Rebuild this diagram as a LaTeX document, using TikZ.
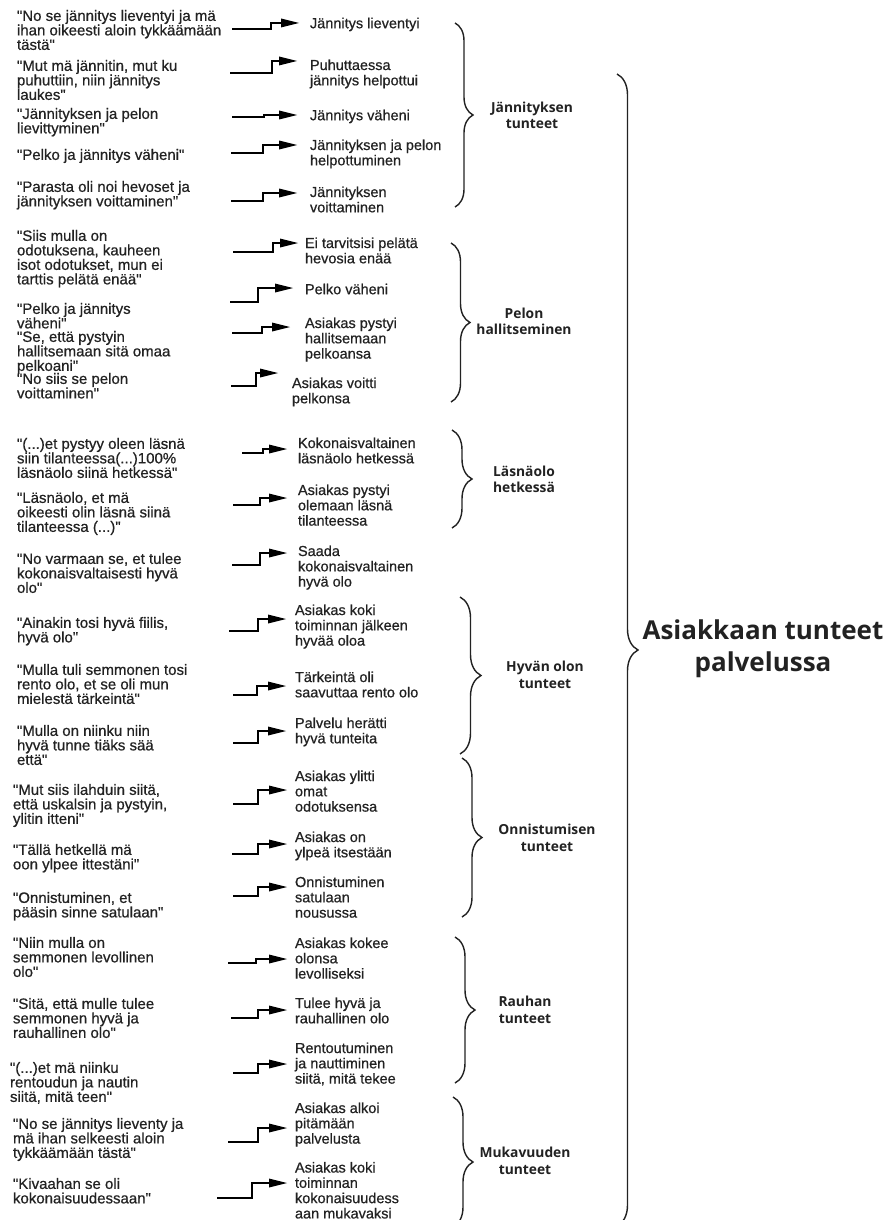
\documentclass[tikz,border=0pt]{standalone}
\usepackage{fontspec}
\setmainfont{Liberation Sans}[Ligatures=TeXOff, FakeBold=0.6]
\newfontfamily\catfont{Open Sans}
\usetikzlibrary{decorations.pathreplacing}

\definecolor{ink}{HTML}{222222}

% text sizes (1pt = 1 unit of the drawing)
\newcommand\qsize{\fontsize{15}{14.5}\selectfont\lineskiplimit=-20pt\lineskip=0pt}
\newcommand\rsize{\fontsize{14.5}{15.3}\selectfont\lineskiplimit=-20pt\lineskip=0pt}
\newcommand\csize{\catfont\bfseries\fontsize{13.8}{16.5}\selectfont}
\newcommand\bigsize{\catfont\bfseries\fontsize{26}{32}\selectfont}

\tikzset{
  quote/.style={anchor=north west, inner sep=0pt, outer sep=0pt, align=left,
    font=\qsize, text=ink, execute at begin node=\strut},
  result/.style={anchor=north west, inner sep=0pt, outer sep=0pt, align=left,
    font=\rsize, text=ink, execute at begin node=\strut},
  category/.style={anchor=center, inner sep=0pt, align=center, font=\csize, text=ink},
  theme/.style={anchor=center, inner sep=0pt, align=center, font=\bigsize, text=ink},
  conn/.style={draw=black, line width=2.3pt, shorten >=12pt},
  head/.style={fill=black},
  brc/.style={draw=ink, line width=1.4pt, decorate},
}

\begin{document}
\begin{tikzpicture}[x=1pt, y=-1pt]
\useasboundingbox (0,0) rectangle (893,1220);
\fill[white] (0,0) rectangle (893,1220);
\clip (0,0) rectangle (893,1220);

% ---- quotations (left column) ----
\node[quote] (q1)  at (17,10)   {"No se jännitys lieventyi ja mä\\ihan oikeesti aloin tykkäämään\\tästä"};
\node[quote] (q2)  at (17,60)   {"Mut mä jännitin, mut ku\\puhuttiin, niin jännitys\\laukes"};
\node[quote] (q3)  at (17,108)  {"Jännityksen ja pelon\\lievittyminen"};
\node[quote] (q4)  at (17,149)  {"Pelko ja jännitys väheni"};
\node[quote] (q5)  at (17,181)  {"Parasta oli noi hevoset ja\\jännityksen voittaminen"};
\node[quote] (q6)  at (17,230)  {"Siis mulla on\\odotuksena, kauheen\\isot odotukset, mun ei\\tarttis pelätä enää"};
\node[quote] (q7)  at (17,303)  {"Pelko ja jännitys\\väheni"};
\node[quote] (q8)  at (17,331)  {"Se, että pystyin\\hallitsemaan sitä omaa\\pelkoani"};
\node[quote] (q9)  at (17,373)  {"No siis se pelon\\voittaminen"};
\node[quote] (q10) at (17,438)  {"(...)et pystyy oleen läsnä\\siin tilanteessa(...)100\%\\läsnäolo siinä hetkessä"};
\node[quote] (q11) at (17,492)  {"Läsnäolo, et mä\\oikeesti olin läsnä siinä\\tilanteessa (...)"};
\node[quote] (q12) at (17,553)  {"No varmaan se, et tulee\\kokonaisvaltaisesti hyvä\\olo"};
\node[quote] (q13) at (17,617)  {"Ainakin tosi hyvä fiilis,\\hyvä olo"};
\node[quote] (q14) at (17,664)  {"Mulla tuli semmonen tosi\\rento olo, et se oli mun\\mielestä tärkeintä"};
\node[quote] (q15) at (17,725)  {"Mulla on niinku niin\\hyvä tunne tiäks sää\\että"};
\node[quote] (q16) at (13,784)  {"Mut siis ilahduin siitä,\\että uskalsin ja pystyin,\\ylitin itteni"};
\node[quote] (q17) at (13,844)  {"Tällä hetkellä mä\\oon ylpee ittestäni"};
\node[quote] (q18) at (13,892)  {"Onnistuminen, et\\pääsin sinne satulaan"};
\node[quote] (q19) at (13,937)  {"Niin mulla on\\semmonen levollinen\\olo"};
\node[quote] (q20) at (13,998)  {"Sitä, että mulle tulee\\semmonen hyvä ja\\rauhallinen olo"};
\node[quote] (q21) at (10,1062) {"(...)et mä niinku\\rentoudun ja nautin\\siitä, mitä teen"};
\node[quote] (q22) at (13,1118) {"No se jännitys lieventy ja\\mä ihan selkeesti aloin\\tykkäämään tästä"};
\node[quote] (q23) at (13,1178) {"Kivaahan se oli\\kokonaisuudessaan"};

% ---- condensed meanings (middle column) ----
\node[result] (r1)  at (310,17.5)  {Jännitys lieventyi};
\node[result] (r2)  at (310,59.5)  {Puhuttaessa\\jännitys helpottui};
\node[result] (r3)  at (310,109.5) {Jännitys väheni};
\node[result] (r4)  at (310,139.5) {Jännityksen ja pelon\\helpottuminen};
\node[result] (r5)  at (310,186.5) {Jännityksen\\voittaminen};
\node[result] (r6)  at (305,237.5) {Ei tarvitsisi pelätä\\hevosia enää};
\node[result] (r7)  at (305,283.5) {Pelko väheni};
\node[result] (r8)  at (305,317.5) {Asiakas pystyi\\hallitsemaan\\pelkoansa};
\node[result] (r9)  at (292,377.5) {Asiakas voitti\\pelkonsa};
\node[result] (r10) at (298,437.5) {Kokonaisvaltainen\\läsnäolo hetkessä};
\node[result] (r11) at (298,484.5) {Asiakas pystyi\\olemaan läsnä\\tilanteessa};
\node[result] (r12) at (298,545.5) {Saada\\kokonaisvaltainen\\hyvä olo};
\node[result] (r13) at (295,604.5) {Asiakas koki\\toiminnan jälkeen\\hyvää oloa};
\node[result] (r14) at (295,671.5) {Tärkeintä oli\\saavuttaa rento olo};
\node[result] (r15) at (295,717.5) {Palvelu herätti\\hyvä tunteita};
\node[result] (r16) at (295,770.5) {Asiakas ylitti\\omat\\odotuksensa};
\node[result] (r17) at (295,831.5) {Asiakas on\\ylpeä itsestään};
\node[result] (r18) at (295,876.5) {Onnistuminen\\satulaan\\nousussa};
\node[result] (r19) at (295,937.5) {Asiakas kokee\\olonsa\\levolliseksi};
\node[result] (r20) at (295,997.5) {Tulee hyvä ja\\rauhallinen olo};
\node[result] (r21) at (295,1042.5) {Rentoutuminen\\ja nauttiminen\\siitä, mitä tekee};
\node[result] (r22) at (295,1102.5) {Asiakas alkoi\\pitämään\\palvelusta};
\node[result] (r23) at (295,1162) {Asiakas koki\\toiminnan\\kokonaisuudess\\aan mukavaksi};

% ---- stepped arrows from quotation to meaning ----
\foreach \i/\xs/\yl/\xk/\yh/\xe in {
   1/232/29/271/23/299,   2/230/73/272/61/297,   3/232/117/264/115/297,
   4/231/153/263/145/297, 5/231/201/263/193/297, 6/233/252/273/243/298,
   7/230/302/258/288/293, 8/232/333/262/327/290, 9/231/386/256/373/278,
  10/242/453/263/449/287, 11/233/505/260/498/287, 12/232/565/260/553/287,
  13/229/631/258/619/286, 14/233/695/257/686/286, 15/233/743/258/731/286,
  16/233/804/258/790/287, 17/232/854/258/844/287, 18/233/896/258/887/287,
  19/228/963/256/959/287, 20/231/1018/258/1010/287, 21/233/1073/258/1064/287,
  22/228/1142/258/1128/287, 23/217/1198/252/1183/287}{
  \coordinate (s\i) at (\xs,\yl);
  \coordinate (t\i) at (\xe,\yh);
  \draw[conn] (s\i) -| (\xk,\yh) -- (t\i);
  \fill[head] (t\i) -- ++(-18,-4.5) -- ++(0,9) -- cycle;
}

% ---- braces grouping the meanings into categories ----
\draw[brc, decoration={brace, amplitude=18pt}] (455,23)   -- (455,207);
\draw[brc, decoration={brace, amplitude=19pt}] (451,243)  -- (451,402);
\draw[brc, decoration={brace, amplitude=20pt}] (452,430)  -- (452,528);
\draw[brc, decoration={brace, amplitude=21pt}] (460,597)  -- (460,754);
\draw[brc, decoration={brace, amplitude=20pt}] (462,758)  -- (462,917);
\draw[brc, decoration={brace, amplitude=20pt}] (455,937)  -- (455,1083);
\draw[brc, decoration={brace, amplitude=20pt}] (453,1097) -- (453,1227);
% main brace
\draw[brc, decoration={brace, amplitude=21pt}] (617,74)   -- (617,1226);

% ---- categories ----
\node[category] (k1) at (532,115.5) {Jännityksen\\tunteet};
\node[category] (k2) at (524,321.5) {Pelon\\hallitseminen};
\node[category] (k3) at (524,479.5) {Läsnäolo\\hetkessä};
\node[category] (k4) at (545,675)   {Hyvän olon\\tunteet};
\node[category] (k5) at (547,838)   {Onnistumisen\\tunteet};
\node[category] (k6) at (525,1010)  {Rauhan\\tunteet};
\node[category] (k7) at (525,1161)  {Mukavuuden\\tunteet};

% ---- main theme ----
\node[theme] (main) at (763,649) {Asiakkaan tunteet\\palvelussa};
\end{tikzpicture}
\end{document}
